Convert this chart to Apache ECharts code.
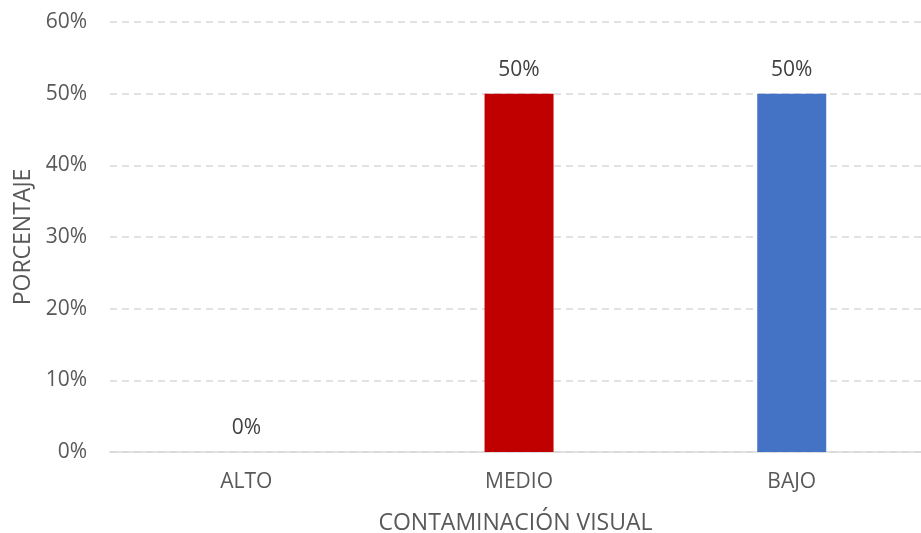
<!DOCTYPE html>
<html>
<head>
<meta charset="utf-8">
<script src="https://cdn.jsdelivr.net/npm/echarts@6/dist/echarts.min.js"></script>
<style>html,body{margin:0;padding:0;background:#fff;}#c{width:921px;height:533px;}</style>
</head>
<body>
<div id="c"></div>
<script>
const categories = ['ALTO', 'MEDIO', 'BAJO'];
const values = [0, 50, 50];
const barColors = ['#ED7D31', '#C00000', '#4472C4'];
const yTicks = [0, 10, 20, 30, 40, 50, 60];

const chart = echarts.init(document.getElementById('c'), null, {renderer: 'canvas'});
const font = 'Open Sans';
// categories placed at 0,1,2 on a value axis; plot runs past the right edge like the reference
chart.setOption({
  animation: false,
  grid: {left: 110, top: 22, right: 0, height: 430, containLabel: false, outerBoundsMode: 'none'},
  xAxis: {
    type: 'value',
    min: -0.5,
    max: 2.474,
    axisLine: {show: true, onZero: false, lineStyle: {color: '#D9D9D9', width: 1.5}},
    axisTick: {show: false},
    splitLine: {show: false},
    axisLabel: {
      color: '#595959', fontSize: 21, fontFamily: font, margin: 20,
      customValues: categories.map((c, i) => i),
      formatter: v => categories[Math.round(v)] || ''
    },
    name: 'CONTAMINACIÓN VISUAL',
    nameLocation: 'middle',
    nameGap: 60,
    nameTextStyle: {color: '#595959', fontSize: 23, fontFamily: font, align: 'center'}
  },
  yAxis: {
    type: 'value',
    min: yTicks[0], max: yTicks[yTicks.length - 1], interval: 10,
    axisLine: {show: false},
    axisTick: {show: false},
    splitLine: {lineStyle: {color: '#D9D9D9', type: [7, 5], width: 1.5}},
    axisLabel: {color: '#595959', fontSize: 21, fontFamily: font, margin: 23, formatter: v => v + '%'},
    name: 'PORCENTAJE',
    nameLocation: 'middle',
    nameGap: 74,
    nameRotate: 90,
    nameTextStyle: {color: '#595959', fontSize: 23, fontFamily: font}
  },
  series: [{
    type: 'bar',
    data: values.map((v, i) => ({value: [i, v], itemStyle: {color: barColors[i]}})),
    barWidth: 69,
    label: {show: true, position: 'top', distance: 13, color: '#404040', fontSize: 21, fontFamily: font, formatter: p => p.value[1] + '%'}
  }]
});
</script>
</body>
</html>
